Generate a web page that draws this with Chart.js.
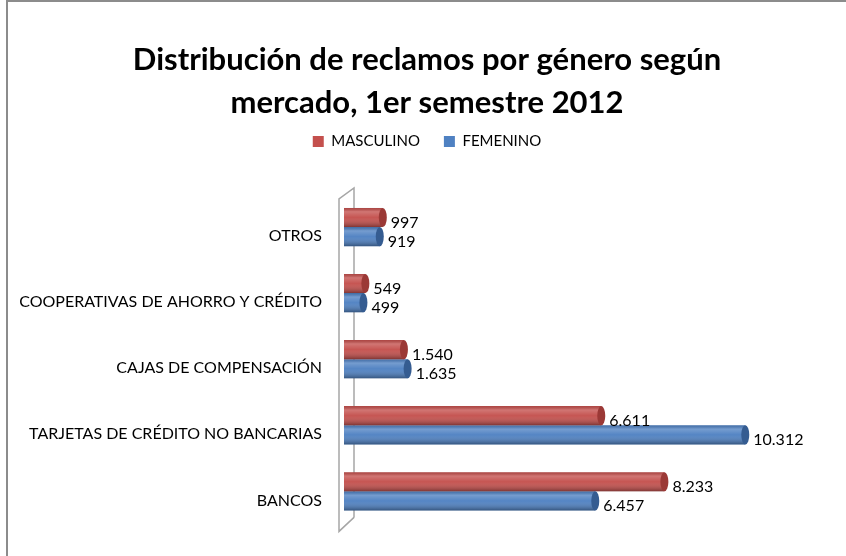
<!DOCTYPE html>
<html>
<head>
<meta charset="utf-8">
<script src="https://cdn.jsdelivr.net/npm/chart.js@4.4.1/dist/chart.umd.min.js"></script>
<style>
  body { margin: 0; background: #fff; overflow: hidden; }
  #marco { position: absolute; left: 6px; top: 0; width: 900px; height: 600px;
           border-left: 2px solid #8c8c8c; border-top: 2px solid #8c8c8c; }
  #grafico { position: absolute; left: 0; top: 0; }
</style>
</head>
<body>
<div id="marco"></div>
<canvas id="grafico" width="846" height="556"></canvas>
<script>
const categorias = [
  'OTROS',
  'COOPERATIVAS DE AHORRO Y CRÉDITO',
  'CAJAS DE COMPENSACIÓN',
  'TARJETAS DE CRÉDITO NO BANCARIAS',
  'BANCOS'
];
const masculino = [997, 549, 1540, 6611, 8233];
const femenino = [919, 499, 1635, 10312, 6457];
const titulo = ['Distribución de reclamos por género según', 'mercado, 1er semestre 2012'];

const rojo = '#C4504D';
const azul = '#4F81C2';
const tapas = ['#9B3936', '#355C91'];

// miles con punto, como en el original
function formatea(v) {
  return String(v).replace(/\B(?=(\d{3})+(?!\d))/g, '.');
}

// pared lateral del grafico 3D
const pared = {
  id: 'pared',
  beforeDatasetsDraw(chart) {
    const { ctx } = chart;
    const { left, top, bottom } = chart.chartArea;
    ctx.save();
    ctx.strokeStyle = '#a6a6a6';
    ctx.lineWidth = 1.5;
    ctx.beginPath();
    ctx.moveTo(left + 10, bottom - 7);
    ctx.lineTo(left + 10, top - 6);
    ctx.lineTo(left - 5, top + 5);
    ctx.lineTo(left - 5, bottom + 7);
    ctx.lineTo(left + 10, bottom - 7);
    ctx.stroke();
    ctx.restore();
  }
};

// sombreado de cilindro, tapa y etiqueta de valor
const cilindros = {
  id: 'cilindros',
  afterDatasetsDraw(chart) {
    const { ctx } = chart;
    chart.data.datasets.forEach((ds, i) => {
      const meta = chart.getDatasetMeta(i);
      meta.data.forEach((bar, j) => {
        const { x, y, base, height } = bar.getProps(['x', 'y', 'base', 'height'], true);
        const arriba = y - height / 2;
        const abajo = y + height / 2;
        const g = ctx.createLinearGradient(0, arriba, 0, abajo);
        g.addColorStop(0, 'rgba(0,0,0,0.12)');
        g.addColorStop(0.2, 'rgba(255,255,255,0.22)');
        g.addColorStop(0.5, 'rgba(255,255,255,0.03)');
        g.addColorStop(1, 'rgba(0,0,0,0.35)');
        ctx.save();
        ctx.fillStyle = g;
        ctx.fillRect(base, arriba, x - base, height);
        ctx.beginPath();
        ctx.ellipse(x, y, 4, height / 2, 0, 0, Math.PI * 2);
        ctx.fillStyle = tapas[i];
        ctx.fill();
        ctx.fillStyle = '#000';
        ctx.font = '16px Lato';
        ctx.textAlign = 'left';
        ctx.textBaseline = 'middle';
        ctx.fillText(formatea(ds.data[j]), x + 8, y + 5);
        ctx.restore();
      });
    });
  }
};

// espacio extra bajo la leyenda
const espacioLeyenda = {
  id: 'espacioLeyenda',
  beforeInit(chart) {
    const fitOriginal = chart.legend.fit;
    chart.legend.fit = function fit() {
      fitOriginal.bind(chart.legend)();
      this.height += 35;
    };
  }
};

new Chart(document.getElementById('grafico'), {
  type: 'bar',
  data: {
    labels: categorias,
    datasets: [
      { label: 'MASCULINO', data: masculino, backgroundColor: rojo,
        categoryPercentage: 0.58, barPercentage: 1 },
      { label: 'FEMENINO', data: femenino, backgroundColor: azul,
        categoryPercentage: 0.58, barPercentage: 1 }
    ]
  },
  options: {
    indexAxis: 'y',
    responsive: false,
    animation: false,
    layout: { padding: { top: 0, right: 0, bottom: 30, left: 8 } },
    scales: {
      x: { display: false, min: 0, max: 12900 },
      y: {
        grid: { display: false, drawTicks: false },
        border: { display: false },
        ticks: { color: '#000', font: { family: 'Lato', size: 16 }, padding: 22, labelOffset: 9 },
        afterFit(scale) { scale.width = 336; }
      }
    },
    plugins: {
      title: {
        display: true,
        text: titulo,
        color: '#000',
        font: { family: 'Lato', size: 31, weight: 'bold', lineHeight: '43px' },
        padding: { top: 38, bottom: -14 }
      },
      legend: {
        labels: {
          color: '#000',
          font: { family: 'Lato', size: 15 },
          boxWidth: 11,
          boxHeight: 11,
          padding: 24
        }
      },
      tooltip: { enabled: false }
    }
  },
  plugins: [pared, cilindros, espacioLeyenda]
});
</script>
</body>
</html>
